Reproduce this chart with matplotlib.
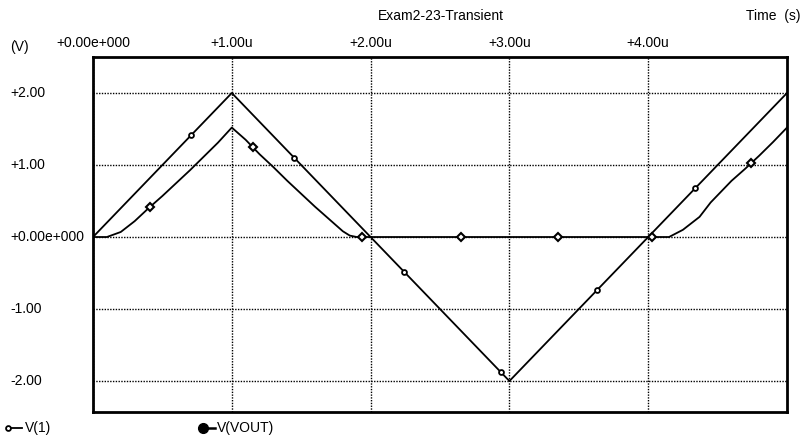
import matplotlib
matplotlib.use("Agg")
import matplotlib.pyplot as plt
import numpy as np

plt.rcParams['font.family'] = ['Liberation Sans', 'DejaVu Sans']

# time in microseconds
t_v1 = [0.0, 1.0, 2.0, 3.0, 4.0, 5.0]
v1 = [0.0, 2.0, 0.0, -2.0, 0.0, 2.0]

t_out = [0.0, 0.1, 0.2, 0.3, 0.4, 0.5, 0.6, 0.7, 0.8, 0.9, 1.0,
         1.1, 1.2, 1.3, 1.4, 1.5, 1.6, 1.7, 1.8, 1.85, 1.9,
         4.1, 4.15, 4.25, 4.37, 4.45, 4.6, 4.7, 4.8, 4.9, 5.0]
vout = [0.0, 0.0, 0.07, 0.22, 0.4, 0.57, 0.75, 0.93, 1.12, 1.31, 1.52,
        1.35, 1.15, 0.97, 0.78, 0.6, 0.42, 0.25, 0.08, 0.02, 0.0,
        0.0, 0.0, 0.1, 0.28, 0.48, 0.78, 0.95, 1.13, 1.32, 1.52]

# marker times (every ~0.7us)
mk_v1 = [0.705, 1.45, 2.24, 2.94, 3.63, 4.34]
mk_out = [0.41, 1.15, 1.94, 2.65, 3.35, 4.03, 4.74]

xticks = [0, 1, 2, 3, 4]
xlabels = ['+0.00e+000', '+1.00u', '+2.00u', '+3.00u', '+4.00u']
yticks = [2, 1, 0, -1, -2]
ylabels = ['+2.00', '+1.00', '+0.00e+000', '-1.00', '-2.00']

fig = plt.figure(figsize=(8.07, 4.37), dpi=100)
ax = fig.add_axes([93/807, 25/437, 694/807, 355/437])
ax.set_xlim(0, 5)
ax.set_ylim(-2.43, 2.5)

for x in xticks:
    ax.axvline(x, color='black', lw=1, ls=(0, (1, 1)), zorder=1)
for y in yticks:
    ax.axhline(y, color='black', lw=1, ls=(0, (1, 1)), zorder=1)

ax.plot(t_v1, v1, color='black', lw=1.3, zorder=3)
ax.plot(t_out, vout, color='black', lw=1.3, zorder=3)
ax.plot(mk_v1, np.interp(mk_v1, t_v1, v1), ls='none', marker='o', ms=3.5,
        mfc='white', mec='black', mew=1.3, zorder=4)
ax.plot(mk_out, np.interp(mk_out, t_out, vout), ls='none', marker='D', ms=4,
        mfc='white', mec='black', mew=1.5, zorder=4)

ax.set_xticks([])
ax.set_yticks([])
for s in ax.spines.values():
    s.set_linewidth(2)

fs = 10
for x, lab in zip(xticks, xlabels):
    fig.text((93 + x * 138.8) / 807, 1 - 43/437, lab, ha='center', va='center', fontsize=fs)
for y, lab in zip(yticks, ylabels):
    py = 237 - y * 72
    fig.text(10/807, 1 - py/437, lab, ha='left', va='center', fontsize=fs)
fig.text(10/807, 1 - 47/437, '(V)', ha='left', va='center', fontsize=fs)
fig.text(441/807, 1 - 16/437, 'Exam2-23-Transient', ha='center', va='center', fontsize=fs)
fig.text(800/807, 1 - 16/437, 'Time  (s)', ha='right', va='center', fontsize=fs)

# legend at bottom
ly = 1 - 428/437
fig.lines.append(plt.Line2D([8/807, 22/807], [ly, ly], color='black', lw=1.3, transform=fig.transFigure))
fig.lines.append(plt.Line2D([8/807], [ly], marker='o', ms=3.5, mfc='white', mec='black', mew=1.3,
                            transform=fig.transFigure))
fig.text(25/807, ly, 'V(1)', ha='left', va='center', fontsize=fs)
fig.lines.append(plt.Line2D([200/807, 215/807], [ly, ly], color='black', lw=1.8, transform=fig.transFigure))
fig.lines.append(plt.Line2D([203/807], [ly], marker='o', ms=7, mfc='black', mec='black',
                            transform=fig.transFigure))
fig.text(217/807, ly, 'V(VOUT)', ha='left', va='center', fontsize=fs)

fig.savefig('out.png', dpi=100)
